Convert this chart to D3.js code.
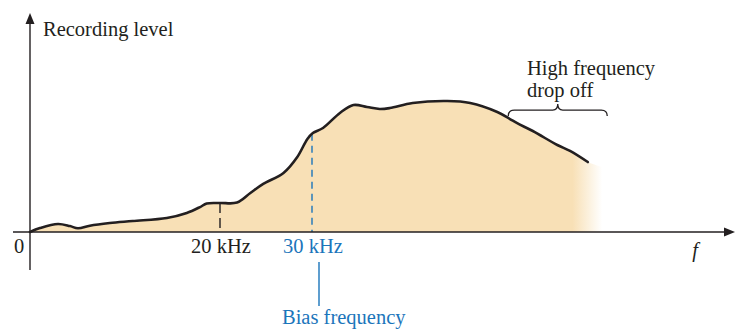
<!DOCTYPE html>
<html>
<head>
<meta charset="utf-8">
<script src="https://cdn.jsdelivr.net/npm/d3@7"></script>
<style>
  html, body { margin: 0; padding: 0; background: #fff; }
  svg { display: block; }
</style>
</head>
<body>
<script>
// ---- data (frequency in kHz, relative recording level 0-100) ----
const freqKHz = [0, 1.05, 2.95, 4.2, 5.05, 6.3, 8.4, 10.8, 14.4, 16.5, 17.9, 18.6, 20, 21.85,
  23.3, 24.7, 26.9, 28.4, 29.5, 30.1, 31.3, 33.3, 34.9, 36.5, 38.0, 39.2, 41.9, 46.0,
  48.7, 51.9, 53.4, 54.2, 56.1, 59.0, 60.5, 62.6];
const level = [0, 3.0, 6.1, 4.5, 2.8, 4.8, 6.8, 8.3, 10.6, 14.4, 18.9, 21.6, 22.0, 22.3,
  29.5, 36.4, 44.7, 56.8, 70.5, 75.0, 78.8, 90.2, 96.2, 94.7, 93.2, 93.9, 97.7, 99.2,
  97.7, 90.9, 85.6, 82.6, 76.5, 65.9, 61.4, 53.0];
const fadeTail = { freq: 64.3, level: 49.2 };       // fill continues & fades out
const fadeStartKHz = 60.8;
const tickKHz = [20, 30];
const tickLabels = ["20 kHz", "30 kHz"];
const tickLevels = [22.0, 74.5];
const braceKHz = [53.2, 64.9];
const braceLevel = 92.4;

// ---- layout ----
const W = 737, H = 329;
const svg = d3.select("body").append("svg").attr("width", W).attr("height", H);

const x = d3.scaleLinear().domain([0, 20, 30, 80]).range([30, 220, 312, 735]);
const y = d3.scaleLinear().domain([0, 100]).range([232, 100]);

const ink = "#231f20", blue = "#1b75bb", fillCol = "#f8e0b6";
const serif = "'Liberation Serif', 'Times New Roman', Times, serif";

const pts = freqKHz.map((f, i) => ({ f, l: level[i] }));
const fillPts = pts.concat([{ f: fadeTail.freq, l: fadeTail.level }]);

// gradient for the fading right edge
const defs = svg.append("defs");
const grad = defs.append("linearGradient").attr("id", "fade")
  .attr("gradientUnits", "userSpaceOnUse")
  .attr("x1", x(fadeStartKHz)).attr("x2", x(fadeTail.freq)).attr("y1", 0).attr("y2", 0);
grad.append("stop").attr("offset", 0).attr("stop-color", fillCol).attr("stop-opacity", 1);
grad.append("stop").attr("offset", 1).attr("stop-color", fillCol).attr("stop-opacity", 0);

const curve = d3.curveCatmullRom.alpha(0.5);
svg.append("path")
  .datum(fillPts)
  .attr("d", d3.area().x(d => x(d.f)).y0(y(0)).y1(d => y(d.l)).curve(curve))
  .attr("fill", "url(#fade)");

// dashed markers
tickKHz.forEach((k, i) => {
  svg.append("line")
    .attr("x1", x(k)).attr("x2", x(k))
    .attr("y1", y(tickLevels[i])).attr("y2", y(0))
    .attr("stroke", i === 0 ? ink : blue)
    .attr("stroke-width", 1.4)
    .attr("stroke-dasharray", i === 0 ? "10,5" : "7,5");
});

// curve line
svg.append("path")
  .datum(pts)
  .attr("d", d3.line().x(d => x(d.f)).y(d => y(d.l)).curve(curve))
  .attr("fill", "none").attr("stroke", ink).attr("stroke-width", 2.6)
  .attr("stroke-linejoin", "round").attr("stroke-linecap", "round");

// axes
const x0 = x(0), yBase = y(0);
const xAxisLeft = 13, xAxisRight = 735, yAxisTop = 13, yAxisBottom = 270;
svg.append("line").attr("x1", xAxisLeft).attr("x2", xAxisRight - 8)
  .attr("y1", yBase).attr("y2", yBase).attr("stroke", ink).attr("stroke-width", 1.4);
svg.append("path")
  .attr("d", `M${xAxisRight},${yBase} L${xAxisRight - 11},${yBase - 4.5} L${xAxisRight - 11},${yBase + 4.5} Z`)
  .attr("fill", ink);
svg.append("line").attr("x1", x0).attr("x2", x0)
  .attr("y1", yAxisBottom).attr("y2", yAxisTop + 8).attr("stroke", ink).attr("stroke-width", 1.4);
svg.append("path")
  .attr("d", `M${x0},${yAxisTop} L${x0 - 4.5},${yAxisTop + 11} L${x0 + 4.5},${yAxisTop + 11} Z`)
  .attr("fill", ink);

// text helper
const fs = 20.5;
function label(tx, ty, str, color, anchor, italic) {
  return svg.append("text").attr("x", tx).attr("y", ty)
    .attr("font-family", serif).attr("font-size", fs)
    .attr("fill", color || ink)
    .attr("text-anchor", anchor || "start")
    .attr("font-style", italic ? "italic" : "normal")
    .text(str);
}
label(43, 36, "Recording level");
label(19, 253, "0", ink, "middle");
tickKHz.forEach((k, i) => label(x(k) + 1, 253, tickLabels[i], i === 0 ? ink : blue, "middle"));
label(695, 257, "f", ink, "middle", true);

// bias frequency callout
svg.append("line").attr("x1", x(30) + 7).attr("x2", x(30) + 7).attr("y1", 262).attr("y2", 306)
  .attr("stroke", blue).attr("stroke-width", 1.4);
label(282, 324, "Bias frequency", blue);

// high frequency drop-off brace
const bx1 = x(braceKHz[0]), bx2 = x(braceKHz[1]), by = y(braceLevel), bm = (bx1 + bx2) / 2;
svg.append("path")
  .attr("d", `M${bx1},${by + 6} Q${bx1},${by} ${bx1 + 6},${by} L${bm - 5},${by} Q${bm},${by} ${bm},${by - 6}` +
             ` Q${bm},${by} ${bm + 5},${by} L${bx2 - 6},${by} Q${bx2},${by} ${bx2},${by + 6}`)
  .attr("fill", "none").attr("stroke", ink).attr("stroke-width", 1.3);
label(527, 75, "High frequency");
label(527, 97, "drop off");
</script>
</body>
</html>
